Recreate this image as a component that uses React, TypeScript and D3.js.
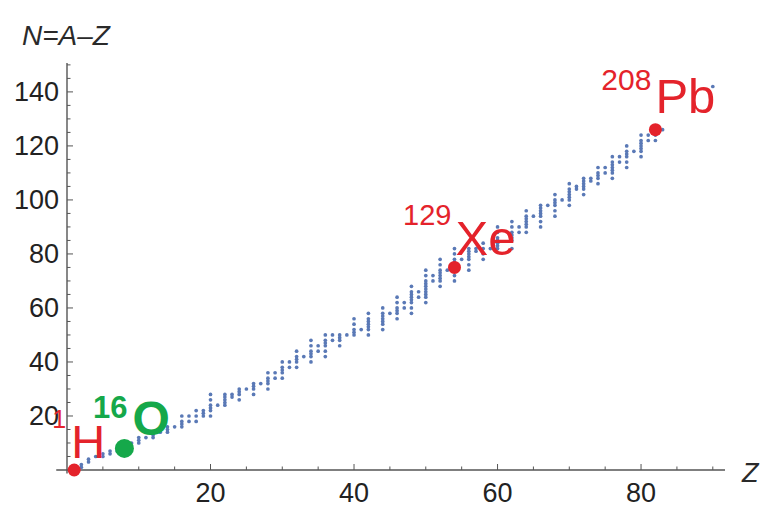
import React from "react";
import * as d3 from "d3";

// Proton numbers Z and their stable / primordial neutron numbers N
const Z_LIST: number[] = [
  1, 2, 3, 4, 5, 6, 7, 8, 9, 10, 11, 12, 13, 14, 15, 16, 17, 18, 19, 20,
  21, 22, 23, 24, 25, 26, 27, 28, 29, 30, 31, 32, 33, 34, 35, 36, 37, 38, 39, 40,
  41, 42, 44, 45, 46, 47, 48, 49, 50, 51, 52, 53, 54, 55, 56, 57, 58, 59, 60,
  62, 63, 64, 65, 66, 67, 68, 69, 70, 71, 72, 73, 74, 75, 76, 77, 78, 79, 80,
  81, 82, 83, 90,
];
const N_BY_Z: number[][] = [
  [0, 1], [1, 2], [3, 4], [5], [5, 6], [6, 7], [7, 8], [8, 9, 10], [10], [10, 11, 12],
  [12], [12, 13, 14], [14], [14, 15, 16], [16], [16, 17, 18, 20], [18, 20], [18, 20, 22], [20, 21, 22], [20, 22, 23, 24, 26, 28],
  [24], [24, 25, 26, 27, 28], [27, 28], [26, 28, 29, 30], [30], [28, 30, 31, 32], [32], [30, 32, 33, 34, 36], [34, 36], [34, 36, 37, 38, 40],
  [38, 40], [38, 40, 41, 42, 44], [42], [40, 42, 43, 44, 46, 48], [44, 46], [42, 44, 46, 47, 48, 50], [48, 50], [46, 48, 49, 50], [50], [50, 51, 52, 54, 56],
  [52], [50, 52, 53, 54, 55, 56, 58], [52, 54, 55, 56, 57, 58, 60], [58], [56, 58, 59, 60, 62, 64], [60, 62], [58, 60, 62, 63, 64, 65, 66, 68], [64, 66], [62, 64, 65, 66, 67, 68, 69, 70, 72, 74], [70, 72],
  [68, 70, 71, 72, 73, 74, 76, 78], [74], [70, 72, 74, 75, 76, 77, 78, 80, 82], [78], [74, 76, 78, 79, 80, 81, 82], [81, 82], [78, 80, 82, 84], [82], [82, 83, 84, 85, 86, 88, 90],
  [82, 85, 86, 87, 88, 90, 92], [88, 90], [88, 90, 91, 92, 93, 94, 96], [94], [90, 92, 94, 95, 96, 97, 98], [98], [94, 96, 98, 99, 100, 102], [100], [98, 100, 101, 102, 103, 104, 106], [104, 105],
  [102, 104, 105, 106, 107, 108], [107, 108], [106, 108, 109, 110, 112], [110, 112], [108, 110, 111, 112, 113, 114, 116], [114, 116], [112, 114, 116, 117, 118, 120], [118], [116, 118, 119, 120, 121, 122, 124],
  [122, 124], [122, 124, 125, 126], [126], [142],
];

// Highlighted nuclides
const HL_SYMBOL: string[] = ["H", "O", "Xe", "Pb"];
const HL_MASS: string[] = ["1", "16", "129", "208"];
const HL_Z: number[] = [1, 8, 54, 82];
const HL_N: number[] = [0, 8, 75, 126];

const X_TICKS: number[] = [20, 40, 60, 80];
const Y_TICKS: number[] = [20, 40, 60, 80, 100, 120, 140];

const W = 764;
const H = 507;
const FONT = "'Liberation Sans', Arial, sans-serif";
const RED = "#e4232b";
const GREEN = "#15a84a";
const BLUE = "#5a79b6";

export default function App() {
  const x = d3.scaleLinear().domain([0, 91.7]).range([67, 725]);
  const y = d3.scaleLinear().domain([0, 150.7]).range([470, 63]);

  const points: { z: number; n: number }[] = [];
  Z_LIST.forEach((z, i) => N_BY_Z[i].forEach((n) => points.push({ z, n })));

  const xMinor = d3.range(5, 91, 5);
  const yMinor = d3.range(5, 151, 5);

  const hlStyle = [
    { color: RED, big: 47, small: 25, weight: 400, sdx: -8, sdy: -42, bdx: -3, bdy: -12, r: 6.5 },
    { color: GREEN, big: 48, small: 31, weight: 700, sdx: 3, sdy: -30, bdx: 8, bdy: -13, r: 9.5 },
    { color: RED, big: 49, small: 29, weight: 400, sdx: -3, sdy: -42, bdx: 1, bdy: -12, r: 6.5 },
    { color: RED, big: 49, small: 30, weight: 400, sdx: -4, sdy: -40, bdx: 0, bdy: -17, r: 6.5 },
  ];

  return (
    <svg
      width={W}
      height={H}
      style={{ position: "absolute", left: 0, top: 0, background: "#fff" }}
      fontFamily={FONT}
    >
      <rect width={W} height={H} fill="#fff" />
      {/* axes */}
      <line x1={x(-1.5)} x2={x(91.7)} y1={y(0)} y2={y(0)} stroke="#555" strokeWidth={1.4} />
      <line x1={x(0)} x2={x(0)} y1={y(-1.3)} y2={y(150.7)} stroke="#555" strokeWidth={1.4} />
      {xMinor.map((t) => (
        <line key={"xm" + t} x1={x(t)} x2={x(t)} y1={y(0)} y2={y(0) - (t % 20 === 0 ? 6 : 3.5)} stroke="#555" strokeWidth={1} />
      ))}
      {yMinor.map((t) => (
        <line key={"ym" + t} x1={x(0)} x2={x(0) + (t % 20 === 0 ? 6 : 3.5)} y1={y(t)} y2={y(t)} stroke="#555" strokeWidth={1} />
      ))}
      {X_TICKS.map((t) => (
        <text key={"xt" + t} x={x(t)} y={502} textAnchor="middle" fontSize={27} fill="#222">
          {t}
        </text>
      ))}
      {Y_TICKS.map((t) => (
        <text key={"yt" + t} x={59} y={y(t) + 9.5} textAnchor="end" fontSize={27} fill="#222">
          {t}
        </text>
      ))}
      <text x={22} y={45} fontSize={28} fontStyle="italic" fill="#2a2a2a">
        N=A–Z
      </text>
      <text x={742} y={482} fontSize={27} fontStyle="italic" fill="#2a2a2a">
        Z
      </text>
      {/* nuclides */}
      {points.map((p, i) => (
        <circle key={i} cx={x(p.z)} cy={y(p.n)} r={1.85} fill={BLUE} />
      ))}
      {HL_SYMBOL.map((s, i) => {
        const st = hlStyle[i];
        const cx = x(HL_Z[i]);
        const cy = y(HL_N[i]);
        return (
          <g key={s}>
            <circle cx={cx} cy={cy} r={st.r} fill={st.color} />
            <text x={cx + st.sdx} y={cy + st.sdy} textAnchor="end" fontSize={st.small} fontWeight={st.weight} fill={st.color}>
              {HL_MASS[i]}
            </text>
            <text x={cx + st.bdx} y={cy + st.bdy} fontSize={st.big} fontWeight={st.weight} fill={st.color}>
              {s}
            </text>
          </g>
        );
      })}
    </svg>
  );
}
